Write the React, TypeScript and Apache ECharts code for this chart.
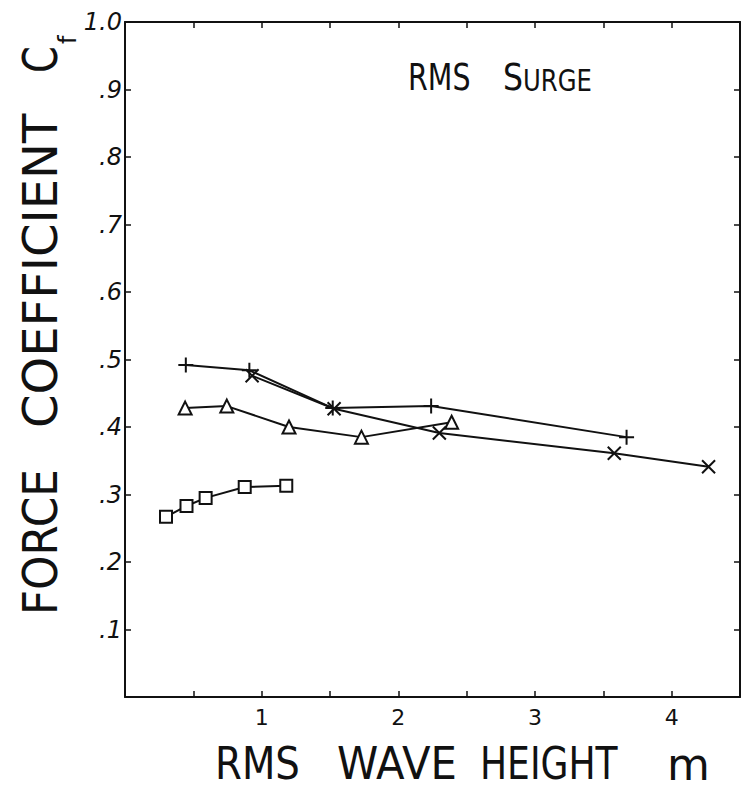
import React, { useEffect, useRef } from 'react';
import * as echarts from 'echarts';

// Data (RMS wave height in m, force coefficient Cf)
const plusX = [0.445, 0.91, 1.52, 2.24, 3.67];
const plusY = [0.492, 0.484, 0.428, 0.431, 0.385];
const crossX = [0.93, 1.53, 2.30, 3.58, 4.27];
const crossY = [0.476, 0.427, 0.391, 0.361, 0.341];
const triX = [0.44, 0.745, 1.20, 1.73, 2.39];
const triY = [0.428, 0.431, 0.400, 0.385, 0.407];
const sqX = [0.30, 0.45, 0.59, 0.876, 1.18];
const sqY = [0.267, 0.283, 0.295, 0.311, 0.313];

const yTickLabels = ['', '.1', '.2', '.3', '.4', '.5', '.6', '.7', '.8', '.9', '1.0'];
const xTickLabels: Record<string, string> = { '1': '1', '2': '2', '3': '3', '4': '4' };

const INK = '#111';
const FONT = '"DejaVu Sans", sans-serif';

const pairs = (xs: number[], ys: number[]) => xs.map((x, i) => [x, ys[i]]);

export default function App() {
  const ref = useRef<HTMLDivElement>(null);
  useEffect(() => {
    if (!ref.current) return;
    const chart = echarts.init(ref.current, null, { renderer: 'svg' });
    const axisLine = () => ({ show: true, onZero: false, lineStyle: { color: INK, width: 2 } });
    const axisTick = () => ({ show: true, inside: true, length: 6, lineStyle: { color: INK, width: 1.5 } });
    const lineSeries = (data: number[][], symbol: string, size: number) => ({
      type: 'line',
      data,
      symbol,
      symbolSize: size,
      showAllSymbol: true,
      lineStyle: { color: INK, width: 2 },
      itemStyle: { color: '#fff', borderColor: INK, borderWidth: 2 },
      emphasis: { disabled: true },
    });
    chart.setOption({
      animation: false,
      backgroundColor: '#fff',
      grid: { left: 125, top: 22, width: 616, height: 675, containLabel: false },
      xAxis: [
        {
          type: 'value', min: 0, max: 4.5, interval: 0.5, position: 'bottom',
          axisLine: axisLine(), axisTick: axisTick(), splitLine: { show: false },
          axisLabel: {
            margin: 9, color: INK, fontSize: 22, fontFamily: FONT,
            formatter: (v: number) => xTickLabels[String(v)] ?? '',
          },
        },
        {
          type: 'value', min: 0, max: 4.5, interval: 0.5, position: 'top',
          axisLine: axisLine(), axisTick: axisTick(), splitLine: { show: false }, axisLabel: { show: false },
        },
      ],
      yAxis: [
        {
          type: 'value', min: 0, max: 1, interval: 0.1, position: 'left',
          axisLine: axisLine(), axisTick: axisTick(), splitLine: { show: false },
          axisLabel: {
            margin: 3, color: INK, fontSize: 24, fontStyle: 'italic', fontFamily: FONT,
            formatter: (v: number) => yTickLabels[Math.round(v * 10)] ?? '',
          },
        },
        {
          type: 'value', min: 0, max: 1, interval: 0.1, position: 'right',
          axisLine: axisLine(), axisTick: axisTick(), splitLine: { show: false }, axisLabel: { show: false },
        },
      ],
      series: [
        lineSeries(pairs(sqX, sqY), 'rect', 12),
        lineSeries(pairs(triX, triY), 'triangle', 13),
        lineSeries(pairs(crossX, crossY), 'path://M0,0L10,10M0,10L10,0', 13),
        lineSeries(pairs(plusX, plusY), 'path://M5,0L5,10M0,5L10,5', 15),
      ],
      graphic: [
        // y-axis title
        { type: 'text', x: 40, y: 615, rotation: Math.PI / 2, scaleX: 0.91, silent: true,
          style: { text: 'FORCE', font: `48px ${FONT}`, fill: INK, textAlign: 'left', textVerticalAlign: 'middle' } },
        { type: 'text', x: 40, y: 428, rotation: Math.PI / 2, scaleX: 1.0, silent: true,
          style: { text: 'COEFFICIENT', font: `48px ${FONT}`, fill: INK, textAlign: 'left', textVerticalAlign: 'middle' } },
        { type: 'text', x: 40, y: 73, rotation: Math.PI / 2, scaleX: 0.8, silent: true,
          style: { text: 'C', font: `48px ${FONT}`, fill: INK, textAlign: 'left', textVerticalAlign: 'middle' } },
        { type: 'text', x: 68, y: 44, rotation: Math.PI / 2, silent: true,
          style: { text: 'f', font: `24px ${FONT}`, fill: INK, textAlign: 'left', textVerticalAlign: 'middle' } },
        // x-axis title
        { type: 'text', x: 215, y: 764, scaleX: 0.88, silent: true,
          style: { text: 'RMS', font: `44px ${FONT}`, fill: INK, textAlign: 'left', textVerticalAlign: 'middle' } },
        { type: 'text', x: 337, y: 764, scaleX: 0.95, silent: true,
          style: { text: 'WAVE', font: `44px ${FONT}`, fill: INK, textAlign: 'left', textVerticalAlign: 'middle' } },
        { type: 'text', x: 480, y: 764, scaleX: 0.82, silent: true,
          style: { text: 'HEIGHT', font: `44px ${FONT}`, fill: INK, textAlign: 'left', textVerticalAlign: 'middle' } },
        { type: 'text', x: 667, y: 764, silent: true,
          style: { text: 'm', font: `44px ${FONT}`, fill: INK, textAlign: 'left', textVerticalAlign: 'middle' } },
        // chart title
        { type: 'text', x: 408, y: 77, scaleX: 0.75, silent: true,
          style: { text: 'RMS', font: `38px ${FONT}`, fill: INK, textAlign: 'left', textVerticalAlign: 'middle' } },
        { type: 'text', x: 503, y: 77, scaleX: 0.83, silent: true,
          style: { text: 'S', font: `38px ${FONT}`, fill: INK, textAlign: 'left', textVerticalAlign: 'middle' } },
        { type: 'text', x: 523, y: 81, scaleX: 0.81, silent: true,
          style: { text: 'URGE', font: `30px ${FONT}`, fill: INK, textAlign: 'left', textVerticalAlign: 'middle' } },
      ],
    });
    return () => chart.dispose();
  }, []);
  return (
    <div
      ref={ref}
      style={{ position: 'absolute', left: 0, top: 0, width: 743, height: 796, background: '#fff' }}
    />
  );
}
